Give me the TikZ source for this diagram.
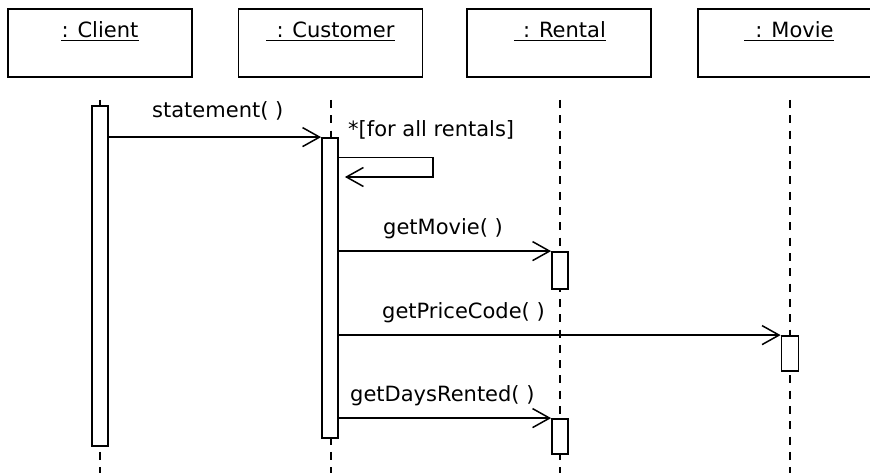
\documentclass[tikz,border=0pt]{standalone}
\usepackage{fontspec}
\setmainfont{DejaVu Sans}
\usetikzlibrary{arrows.meta}
\begin{document}
\begin{tikzpicture}[x=1pt,y=-1pt,
  objbox/.style={draw, line width=1.8pt, minimum width=184pt, minimum height=68pt, inner sep=0pt},
  objlabel/.style={inner sep=0pt, font=\fontsize{21}{25}\selectfont},
  msglabel/.style={inner sep=0pt, anchor=base west, font=\fontsize{21}{25}\selectfont},
  uline/.style={line width=1.5pt},
  lifeline/.style={line width=1.9pt, dash pattern=on 8pt off 7.3pt},
  actbar/.style={draw, fill=white, line width=1.8pt, minimum width=16pt, inner sep=0pt},
  msg/.style={line width=1.6pt, -{Straight Barb[length=17pt, width=19pt, line width=1.5pt]}}
]
\clip (0,0) rectangle (870,473);
\fill[white] (0,0) rectangle (870,473);

% object boxes
\node[objbox] (client)   at (100,43)   {};
\node[objbox] (customer) at (330.5,43) {};
\node[objbox] (rental)   at (559,43)   {};
\node[objbox] (movie)    at (790,43)   {};

% underlined object names
\node[objlabel, anchor=base] (clientlbl)   at (100,38)   {: Client};
\node[objlabel, anchor=base] (customerlbl) at (330.5,38) {\hspace*{10pt}: Customer};
\node[objlabel, anchor=base] (rentallbl)   at (560,38)   {\hspace*{9pt}: Rental};
\node[objlabel, anchor=base] (movielbl)    at (789,38)   {\hspace*{11pt}: Movie};
\foreach \l in {clientlbl,customerlbl,rentallbl,movielbl}
  \draw[uline] ([yshift=-2.5pt]\l.base west) -- ([yshift=-2.5pt]\l.base east);

% lifelines
\coordinate (clTop) at (100,100);   \coordinate (clBot) at (100,480);
\coordinate (cuTop) at (331,100);   \coordinate (cuBot) at (331,480);
\coordinate (reTop) at (560,100);   \coordinate (reBot) at (560,480);
\coordinate (moTop) at (790,100);   \coordinate (moBot) at (790,480);
\draw[lifeline] (clTop) -- (clBot);
\draw[lifeline] (cuTop) -- (cuBot);
\draw[lifeline] (reTop) -- (reBot);
\draw[lifeline] (moTop) -- (moBot);

% activation bars
\node[actbar, minimum height=340pt] (clbar)  at (100,276)   {};
\node[actbar, minimum height=300pt] (cubar)  at (330,288)   {};
\node[actbar, minimum height=37pt]  (rebarA) at (560,270.5) {};
\node[actbar, minimum height=35pt, minimum width=17pt] (mobar) at (790,353.5) {};
\node[actbar, minimum height=35pt]  (rebarB) at (560,436.5) {};

% messages
\draw[msg] (clbar.east |- cubar.north) -- (cubar.north west);
\node[msglabel] (lstatement) at (152,118) {statement( )};

\coordinate (loopA) at (433,157.5);
\coordinate (loopB) at (433,177);
\draw[msg, shorten >=6pt] (cubar.east |- loopA) -- (loopA) -- (loopB) -- (cubar.east |- loopB);
\node[msglabel] (lloop) at (348,137) {*[for all rentals]};

\draw[msg] (cubar.east |- rebarA.north) -- (rebarA.north west);
\node[msglabel] (lmovie) at (383,234) {getMovie( )};

\draw[msg] (cubar.east |- mobar.north) -- (mobar.north west);
\node[msglabel] (lprice) at (382,318) {getPriceCode( )};

\draw[msg] (cubar.east |- rebarB.north) -- (rebarB.north west);
\node[msglabel] (ldays) at (350,401) {getDaysRented( )};
\end{tikzpicture}
\end{document}
